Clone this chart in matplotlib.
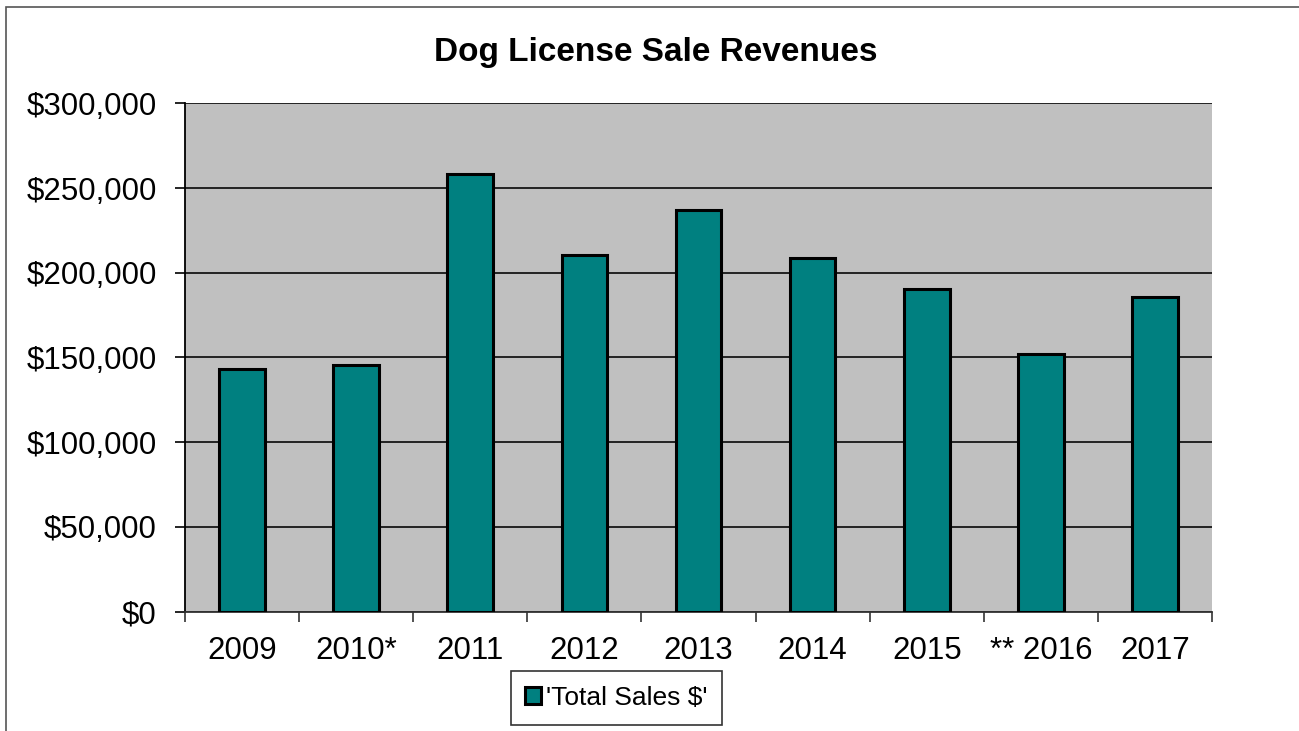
import numpy as np
import matplotlib.pyplot as plt
from matplotlib.patches import Rectangle
from matplotlib.ticker import FuncFormatter, FixedLocator

plt.rcParams['font.family'] = ['Liberation Sans', 'DejaVu Sans']

years = ['2009', '2010*', '2011', '2012', '2013', '2014', '2015', '** 2016', '2017']
sales = [143000, 145500, 258500, 210500, 237000, 208500, 190300, 151900, 185600]

W, H = 1299, 731
fig = plt.figure(figsize=(W / 100, H / 100), dpi=100)
ax = fig.add_axes([185 / W, 1 - 611.5 / H, (1212 - 185) / W, (611.5 - 103.3) / H])

# outer frame of the chart object
fig.patches.append(Rectangle((6 / W, -0.1), 1.2, 1 - 7 / H + 0.1, transform=fig.transFigure,
                             fill=False, edgecolor='#555555', linewidth=1.2))

x = np.arange(len(years))
ax.set_facecolor('#C0C0C0')
ax.bar(x, sales, width=0.4, color='#008080', edgecolor='black', linewidth=2.2,
       label="'Total Sales $'", zorder=3)

ax.set_xlim(-0.5, len(years) - 0.5)
ax.set_ylim(0, 300000)
ax.set_yticks(np.arange(0, 300001, 50000))
ax.yaxis.set_major_formatter(FuncFormatter(lambda v, p: '${:,.0f}'.format(v)))
ax.grid(axis='y', color='#222222', linewidth=1.4, zorder=1)

# category ticks sit between the bars, labels at the bar centres
ax.xaxis.set_major_locator(FixedLocator(np.arange(-0.5, len(years), 1)))
ax.xaxis.set_major_formatter(FuncFormatter(lambda v, p: ''))
ax.set_xticks(x, minor=True)
ax.set_xticklabels(years, minor=True)
ax.tick_params(axis='x', which='major', length=7.2, width=1.2, color='#333333')
ax.tick_params(axis='x', which='minor', length=0, pad=17.5, labelsize=22.5)
ax.tick_params(axis='y', length=7.2, width=1.2, pad=13, labelsize=22.5)

for s in ['top', 'right']:
    ax.spines[s].set_visible(False)
ax.spines['left'].set_linewidth(1.3)
ax.spines['bottom'].set_linewidth(1.3)
ax.spines['bottom'].set_color('#333333')

fig.text(656 / W, 1 - 53 / H, 'Dog License Sale Revenues', ha='center', va='center',
         fontsize=24, fontweight='bold')

leg = ax.legend(loc='center', bbox_to_anchor=(616.5 / W, 1 - 698 / H), bbox_transform=fig.transFigure,
                fontsize=19, frameon=True, fancybox=False, handlelength=0.6, handleheight=0.6,
                handletextpad=0.2, borderpad=0.55, borderaxespad=0)
leg.get_frame().set_edgecolor('black')
leg.get_frame().set_linewidth(1.2)

fig.savefig('out.png', dpi=100)
